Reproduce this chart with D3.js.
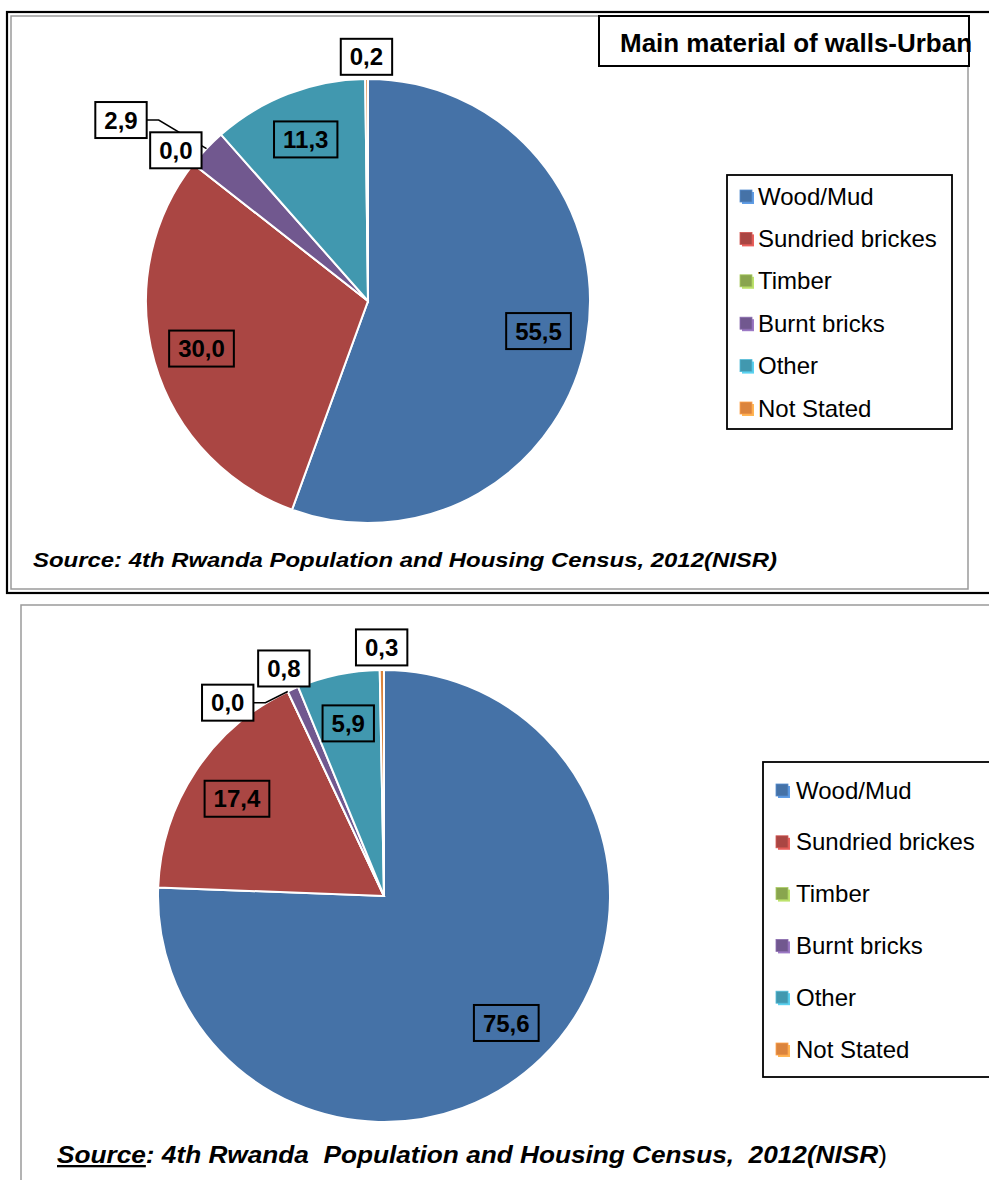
<!DOCTYPE html>
<html>
<head>
<meta charset="utf-8">
<script src="https://cdn.jsdelivr.net/npm/d3@7"></script>
<style>
body { margin: 0; background: #fff; }
svg { display: block; font-family: "Liberation Sans", Arial, sans-serif; }
</style>
</head>
<body>
<script>
// categories and colours (Excel 2007 default palette)
var categories = ["Wood/Mud", "Sundried brickes", "Timber", "Burnt bricks", "Other", "Not Stated"];
var colors = ["#4572A7", "#AA4643", "#89A54E", "#71588F", "#4198AF", "#DB843D"];

// percentages
var urbanValues = [55.5, 30.0, 0.0, 2.9, 11.3, 0.2];
var secondValues = [75.6, 17.4, 0.0, 0.8, 5.9, 0.3];

var urbanTitle = "Main material of walls-Urban";
var sourceTop = "Source: 4th Rwanda Population and Housing Census, 2012(NISR)";

var width = 989, height = 1180;

var svg = d3.select("body").append("svg")
    .attr("width", width)
    .attr("height", height);

// frames: top chart has a double border, bottom one a single grey line
svg.append("rect")
    .attr("x", 7).attr("y", 12).attr("width", 1000).attr("height", 581)
    .attr("fill", "none").attr("stroke", "#000").attr("stroke-width", 2.2);
svg.append("rect")
    .attr("x", 11).attr("y", 16).attr("width", 957).attr("height", 573)
    .attr("fill", "none").attr("stroke", "#9a9a9a").attr("stroke-width", 1.5);
svg.append("rect")
    .attr("x", 21).attr("y", 605).attr("width", 1000).attr("height", 600)
    .attr("fill", "none").attr("stroke", "#9a9a9a").attr("stroke-width", 1.5);

var fmt = function(v) { return d3.format(".1f")(v).replace(".", ","); };

function drawPie(cfg) {
  var r = cfg.radius;
  var g = svg.append("g")
      .attr("transform", "translate(" + cfg.cx + "," + cfg.cy + ")");

  var pie = d3.pie().sort(null).value(function(d) { return d; });
  var arcs = pie(cfg.values);
  var arc = d3.arc().innerRadius(0).outerRadius(r);

  g.selectAll("path.slice")
      .data(arcs)
      .enter().append("path")
      .attr("class", "slice")
      .attr("d", arc)
      .attr("fill", function(d, i) { return colors[i]; })
      .attr("stroke", "#fff")
      .attr("stroke-width", 2);

  // build label objects, measure text first
  var labels = arcs.map(function(d, i) {
    var mid = (d.startAngle + d.endAngle) / 2;
    var inside = d.value >= 5;
    return { i: i, value: d.value, mid: mid, angle: mid,
             rad: inside ? r * 0.78 : r * 1.1, inside: inside, moved: false };
  });

  var lg = g.append("g");
  labels.forEach(function(l) {
    l.g = lg.append("g");
    l.rect = l.g.append("rect");
    l.text = l.g.append("text")
        .attr("text-anchor", "middle")
        .attr("dy", "0.36em")
        .style("font-size", "24px")
        .style("font-weight", "bold")
        .text(fmt(l.value));
    l.w = l.text.node().getComputedTextLength() + 18;
    l.h = 36;
  });

  function place(l) {
    l.x = Math.sin(l.angle) * l.rad;
    l.y = -Math.cos(l.angle) * l.rad;
  }
  labels.forEach(place);

  function overlaps(a, b) {
    return Math.abs(a.x - b.x) < (a.w + b.w) / 2 + 3 &&
           Math.abs(a.y - b.y) < (a.h + b.h) / 2 + 3;
  }

  // resolve collisions between the small outside labels
  var outside = labels.filter(function(l) { return !l.inside; });
  for (var k = 0; k < outside.length - 1; k++) {
    var a = outside[k], b = outside[k + 1];
    var guard = 0;
    while (overlaps(a, b) && guard++ < 400) {
      if (cfg.collision === "outward") {
        b.rad += 2; b.angle -= 0.004; place(b); b.moved = true;
      } else {
        a.angle -= 0.01; place(a); a.moved = true;
      }
    }
  }

  // leader lines for displaced labels
  labels.filter(function(l) { return l.moved; }).forEach(function(l) {
    var px = Math.sin(l.mid) * r, py = -Math.cos(l.mid) * r;
    var side = px > l.x ? 1 : -1;
    var sx = l.x + side * l.w / 2;
    g.append("polyline")
        .attr("points", [[sx, l.y], [sx + side * 12, l.y], [px, py]].join(" "))
        .attr("fill", "none")
        .attr("stroke", "#000")
        .attr("stroke-width", 1.5);
  });

  labels.forEach(function(l) {
    l.g.attr("transform", "translate(" + l.x + "," + l.y + ")");
    l.rect
        .attr("x", -l.w / 2).attr("y", -l.h / 2)
        .attr("width", l.w).attr("height", l.h)
        .attr("fill", l.inside ? "none" : "#fff")
        .attr("stroke", "#000")
        .attr("stroke-width", 2);
  });
  lg.raise();
}

function drawLegend(cfg) {
  var g = svg.append("g");
  g.append("rect")
      .attr("x", cfg.x).attr("y", cfg.y)
      .attr("width", cfg.w).attr("height", cfg.h)
      .attr("fill", "#fff")
      .attr("stroke", "#000")
      .attr("stroke-width", 1.8);

  var y = d3.scalePoint()
      .domain(categories)
      .range([cfg.y + cfg.first, cfg.y + cfg.h - cfg.first]);

  var item = g.selectAll(".item")
      .data(categories)
      .enter().append("g")
      .attr("class", "item")
      .attr("transform", function(d) { return "translate(" + cfg.x + "," + y(d) + ")"; });

  item.append("rect")
      .attr("x", 15).attr("y", -4)
      .attr("width", 12).attr("height", 12)
      .attr("fill", function(d, i) { return d3.color(colors[i]).brighter(0.9); });
  item.append("rect")
      .attr("x", 13).attr("y", -6)
      .attr("width", 12).attr("height", 12)
      .attr("fill", function(d, i) { return colors[i]; })
      .attr("stroke", function(d, i) { return d3.color(colors[i]).brighter(0.6); })
      .attr("stroke-width", 0.8);
  item.append("text")
      .attr("x", cfg.textX)
      .attr("dy", "0.36em")
      .style("font-size", "24px")
      .text(function(d) { return d; });
}

// ---- top chart (urban) ----
drawPie({ values: urbanValues, cx: 368, cy: 301, radius: 222, collision: "outward" });
drawLegend({ x: 727, y: 175, w: 225, h: 254, first: 21, textX: 31 });

svg.append("rect")
    .attr("x", 599).attr("y", 16).attr("width", 370).attr("height", 50)
    .attr("fill", "#fff").attr("stroke", "#000").attr("stroke-width", 2);
svg.append("text")
    .attr("x", 620).attr("y", 52)
    .attr("textLength", 352)
    .attr("lengthAdjust", "spacingAndGlyphs")
    .style("font-size", "25px")
    .style("font-weight", "bold")
    .text(urbanTitle);

svg.append("text")
    .attr("x", 33).attr("y", 567)
    .attr("textLength", 744)
    .attr("lengthAdjust", "spacingAndGlyphs")
    .style("font-size", "21px")
    .style("font-weight", "bold")
    .style("font-style", "italic")
    .text(sourceTop);

// ---- bottom chart ----
drawPie({ values: secondValues, cx: 384, cy: 896, radius: 226, collision: "rotate" });
drawLegend({ x: 763, y: 762, w: 240, h: 315, first: 28, textX: 33 });

var src = svg.append("text")
    .attr("x", 57).attr("y", 1163)
    .attr("textLength", 830)
    .attr("lengthAdjust", "spacingAndGlyphs")
    .style("font-size", "23px")
    .style("font-weight", "bold")
    .style("font-style", "italic")
    .style("white-space", "pre");
src.append("tspan").style("text-decoration", "underline").text("Source");
src.append("tspan").text(": 4th Rwanda  Population and Housing Census,  2012(NISR");
src.append("tspan").style("font-weight", "normal").style("font-style", "normal").text(")");
</script>
</body>
</html>
